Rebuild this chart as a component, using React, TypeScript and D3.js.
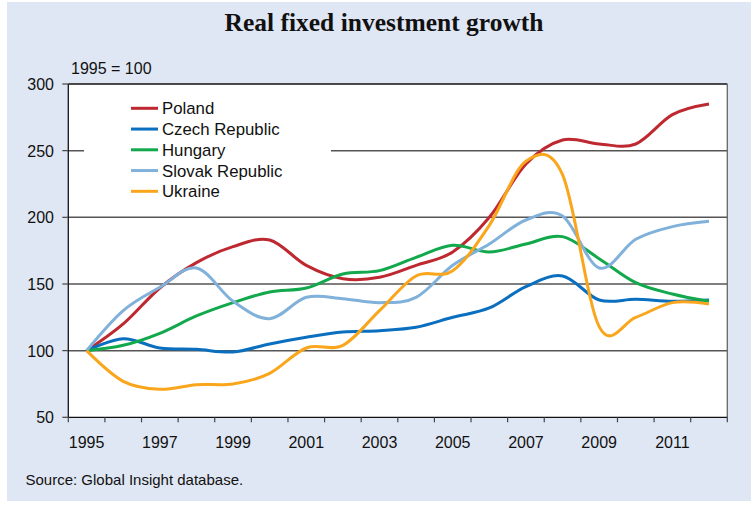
import React from "react";
import * as d3 from "d3";

const years = [1995, 1996, 1997, 1998, 1999, 2000, 2001, 2002, 2003, 2004, 2005, 2006, 2007, 2008, 2009, 2010, 2011, 2012];
const tickYears = [1995, 1997, 1999, 2001, 2003, 2005, 2007, 2009, 2011];
const yTicks = [50, 100, 150, 200, 250, 300];
const gridValues = [100, 150, 200, 250];

const poland = [100, 120, 147, 166, 178, 183, 164, 154, 155, 164, 174, 200, 240, 258, 255, 255, 277, 285];
const czech = [100, 109, 102, 101, 99, 105, 110, 114, 115, 117.5, 125, 132, 148, 156, 138, 138.5, 137, 138];
const hungary = [100, 104, 113, 126, 136, 144, 147, 157.5, 160, 170, 179, 174, 180, 185.5, 169, 151, 142.5, 137];
const slovak = [100, 130, 147.5, 162, 137, 124, 140, 139, 136, 140, 164, 180, 198, 201, 162, 183.5, 193, 197];
const ukraine = [100, 77, 71, 74.5, 75, 83, 102, 104, 130, 156, 160, 194, 242, 232, 118, 125, 136, 135];

const seriesNames = ["Poland", "Czech Republic", "Hungary", "Slovak Republic", "Ukraine"];
const seriesValues = [poland, czech, hungary, slovak, ukraine];
const seriesColors = ["#be2830", "#0a6fbe", "#12a84c", "#80b1da", "#f9a61c"];

const W = 751;
const H = 505;
const plot = { left: 68.3, right: 727.3, top: 84, bottom: 417.3 };
const sans = "'Liberation Sans', Arial, sans-serif";

export default function App() {
  const x = d3.scaleBand<number>().domain(years).range([plot.left, plot.right]).padding(0);
  const y = d3.scaleLinear().domain([50, 300]).range([plot.bottom, plot.top]);
  const bw = x.bandwidth();
  const cx = (yr: number) => (x(yr) as number) + bw / 2;

  const line = d3
    .line<number>()
    .x((_, i) => cx(years[i]))
    .y((v) => y(v))
    .curve(d3.curveCatmullRom.alpha(0));

  const boundaries = years.map((yr) => x(yr) as number).concat([plot.right]);

  return (
    <svg width={W} height={H} style={{ position: "absolute", left: 0, top: 0 }}>
      <rect x={7} y={2} width={W - 7} height={499} fill="#e0e7f4" />
      <text x={384} y={31} textAnchor="middle" fontFamily="'Liberation Serif', 'Times New Roman', serif" fontWeight="bold" fontSize={25.5} fill="#111">
        Real fixed investment growth
      </text>
      <text x={71} y={74} fontFamily={sans} fontSize={16} fill="#111">
        1995 = 100
      </text>
      <rect x={plot.left} y={plot.top} width={plot.right - plot.left} height={plot.bottom - plot.top} fill="#ffffff" />
      {gridValues.map((g) => (
        <line key={g} x1={plot.left} x2={plot.right} y1={y(g)} y2={y(g)} stroke="#555" strokeWidth={1.5} />
      ))}
      <rect x={84} y={96} width={247} height={106} fill="#ffffff" />
      {seriesValues.map((vals, i) => (
        <path key={seriesNames[i]} d={line(vals) || ""} fill="none" stroke={seriesColors[i]} strokeWidth={3} strokeLinejoin="round" />
      ))}
      {seriesNames.map((name, i) => (
        <g key={name} transform={`translate(0, ${108.3 + i * 20.75})`}>
          <line x1={131} x2={158} y1={0} y2={0} stroke={seriesColors[i]} strokeWidth={3} />
          <text x={162} y={6} fontFamily={sans} fontSize={16.8} fill="#111">
            {name}
          </text>
        </g>
      ))}
      <line x1={plot.left} x2={plot.right} y1={plot.top} y2={plot.top} stroke="#111" strokeWidth={1.3} />
      <line x1={plot.right} x2={plot.right} y1={plot.top} y2={plot.bottom} stroke="#666" strokeWidth={1.3} />
      <line x1={plot.left} x2={plot.left} y1={plot.top} y2={plot.bottom} stroke="#111" strokeWidth={1.3} />
      <line x1={plot.left} x2={plot.right} y1={plot.bottom} y2={plot.bottom} stroke="#111" strokeWidth={1.3} />
      {boundaries.map((b, i) => (
        <line key={i} x1={b} x2={b} y1={plot.bottom} y2={plot.bottom + 5} stroke="#444" strokeWidth={1.2} />
      ))}
      {yTicks.map((t) => (
        <g key={t}>
          <line x1={plot.left - 6} x2={plot.left} y1={y(t)} y2={y(t)} stroke="#444" strokeWidth={1.2} />
          <text x={54} y={y(t) + 6} textAnchor="end" fontFamily={sans} fontSize={16} fill="#111">
            {t}
          </text>
        </g>
      ))}
      {tickYears.map((t) => (
        <text key={t} x={cx(t)} y={448} textAnchor="middle" fontFamily={sans} fontSize={16} fill="#111">
          {t}
        </text>
      ))}
      <text x={25.5} y={485} fontFamily={sans} fontSize={15} fill="#111">
        Source: Global Insight database.
      </text>
    </svg>
  );
}
